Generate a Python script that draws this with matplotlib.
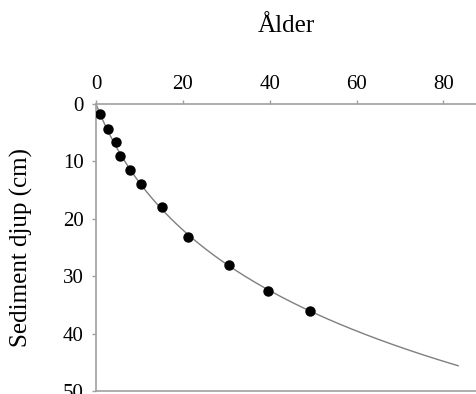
import numpy as np
import matplotlib
matplotlib.use("Agg")
import matplotlib.pyplot as plt

# age vs sediment depth
alder = [0.9, 2.8, 4.6, 5.5, 7.9, 10.3, 15.1, 21.1, 30.7, 39.5, 49.3]
djup = [1.8, 4.4, 6.6, 9.1, 11.5, 14.0, 17.9, 23.1, 28.0, 32.5, 36.0]
trend_end_djup = 45.6

plt.rcParams['font.family'] = ['Liberation Serif', 'DejaVu Serif']

x = np.array(alder)
y = np.array(djup)

# trend line: alder = a*(exp(k*djup)-1), least squares over k
best = None
for k in np.linspace(0.01, 0.1, 901):
    f = np.exp(k * y) - 1
    a = (f * x).sum() / (f * f).sum()
    err = ((a * f - x) ** 2).sum()
    if best is None or err < best[0]:
        best = (err, a, k)
_, a, k = best
yy = np.linspace(0, trend_end_djup, 200)
xx = a * (np.exp(k * yy) - 1)

fig = plt.figure(figsize=(4.76, 3.94), dpi=100)
ax = fig.add_axes([96 / 476, 1 - 391 / 394, 1 - 96 / 476, (391 - 104) / 394])

ax.plot(xx, yy, color='#7f7f7f', lw=1.0, zorder=2)
ax.plot(x, y, 'o', color='black', ms=6.5, zorder=3)

ax.set_xlim(0, 87.5)
ax.set_ylim(50, 0)
ax.set_xticks([0, 20, 40, 60, 80])
ax.set_yticks([0, 10, 20, 30, 40, 50])

ax.xaxis.tick_top()
ax.xaxis.set_label_position('top')
ax.set_xlabel('Ålder', fontsize=18, labelpad=31)
ax.set_ylabel('Sediment djup (cm)', fontsize=18, labelpad=21)
ax.tick_params(axis='both', labelsize=15, colors='#a0a0a0', labelcolor='black',
               length=3, width=1, direction='out')
ax.tick_params(axis='x', pad=4)
ax.tick_params(axis='y', pad=6)

for s in ['left', 'top', 'bottom']:
    ax.spines[s].set_color('#a0a0a0')
    ax.spines[s].set_linewidth(1.2)
ax.spines['right'].set_visible(False)

fig.savefig('out.png', dpi=100)
